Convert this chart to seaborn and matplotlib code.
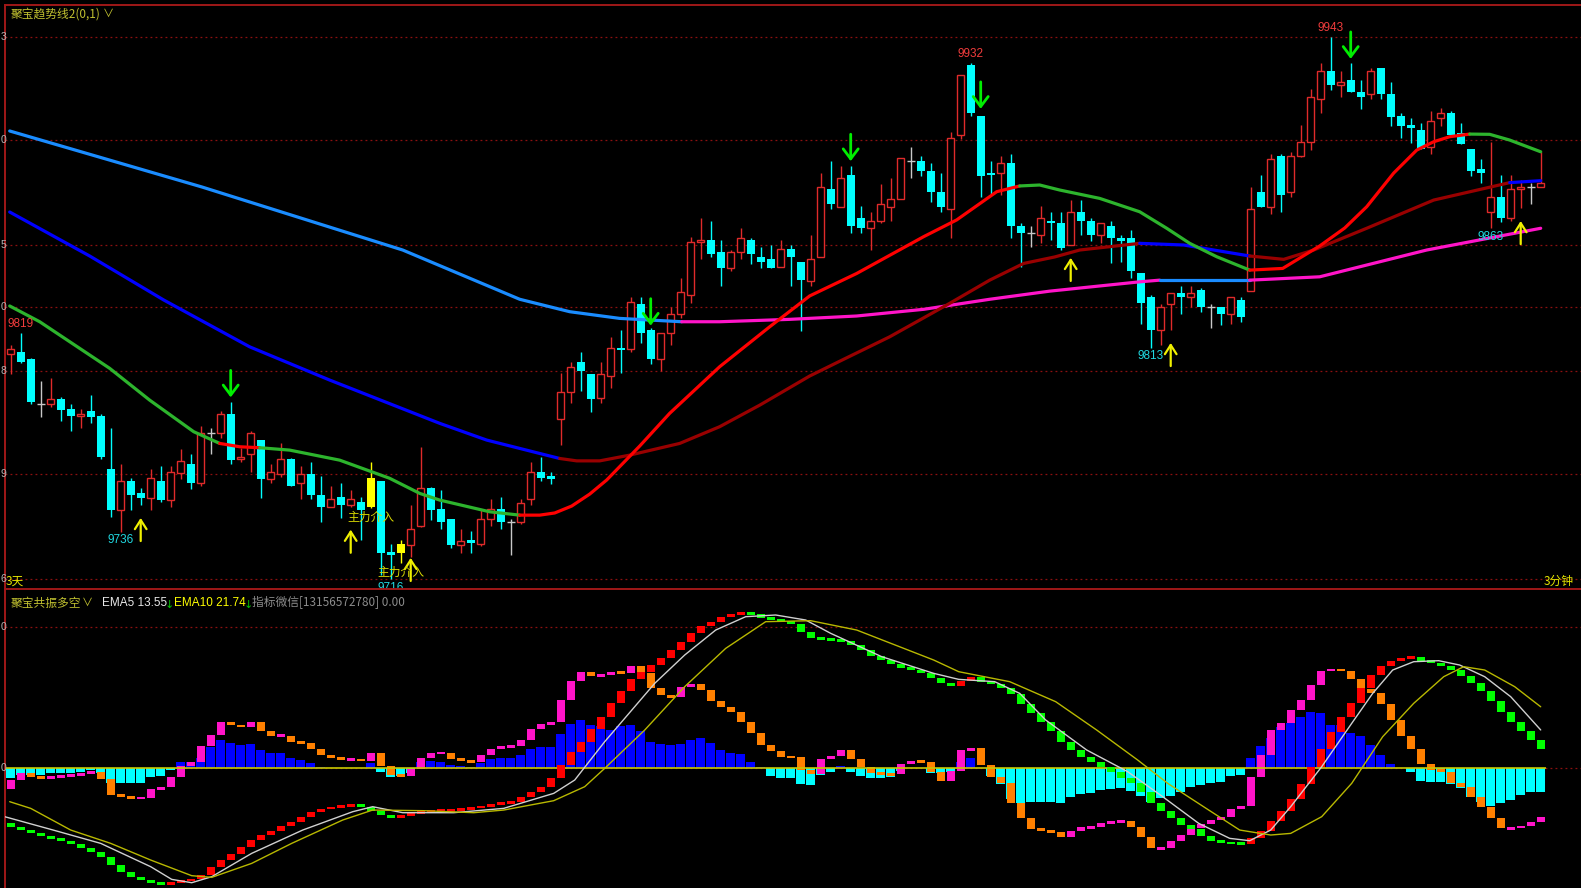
import numpy as np
import pandas as pd
import seaborn as sns
import matplotlib.pyplot as plt
from matplotlib import transforms

# ── 1. K线数据 (3分钟) ─────────────────────────────────────────────
opens = [9810.2, 9811.0, 9808.2, 9789.2, 9789.2, 9791.3, 9787.1, 9784.2, 9786.3, 9784.2,
         9762.2, 9745.0, 9757.2, 9752.3, 9750.0, 9757.2, 9749.2, 9760.4, 9764.3, 9756.2,
         9777.1, 9777.1, 9785.1, 9766.2, 9768.4, 9774.2, 9758.1, 9760.2, 9766.2, 9756.2,
         9760.2, 9751.3, 9746.1, 9750.3, 9747.0, 9748.3, 9758.3, 9757.3, 9727.4, 9727.1,
         9730.4, 9738.3, 9754.1, 9745.3, 9741.1, 9730.4, 9732.4, 9731.0, 9741.1, 9745.3,
         9740.1, 9740.1, 9749.5, 9761.1, 9759.2, 9783.0, 9794.3, 9807.1, 9802.1, 9792.0,
         9801.2, 9813.0, 9812.3, 9831.1, 9820.4, 9808.1, 9819.0, 9827.2, 9835.0, 9857.0,
         9857.9, 9853.1, 9846.2, 9853.1, 9857.9, 9850.9, 9850.1, 9846.9, 9854.1, 9848.9,
         9841.0, 9850.7, 9879.2, 9872.0, 9885.1, 9867.1, 9862.9, 9865.9, 9872.0, 9875.0,
         9891.1, 9891.1, 9887.0, 9878.0, 9871.0, 9901.9, 9931.0, 9909.9, 9886.2, 9886.2,
         9890.1, 9864.0, 9861.1, 9860.1, 9866.0, 9864.9, 9855.8, 9869.8, 9865.9, 9860.0,
         9863.9, 9858.9, 9858.9, 9844.0, 9834.2, 9820.3, 9831.1, 9835.9, 9834.2, 9837.0,
         9830.0, 9830.0, 9827.2, 9833.1, 9836.7, 9877.9, 9871.9, 9893.1, 9877.9, 9893.1,
         9898.8, 9916.8, 9928.8, 9922.8, 9924.9, 9919.8, 9918.9, 9929.8, 9918.9, 9909.9,
         9905.9, 9904.0, 9896.7, 9908.9, 9911.0, 9902.9, 9895.9, 9887.9, 9869.8, 9876.1,
         9867.0, 9879.2, 9880.0, 9880.0]
highs = [9814.1, 9819.0, 9808.5, 9799.0, 9800.1, 9792.2, 9789.2, 9787.1, 9793.1, 9785.1,
         9779.2, 9764.3, 9758.3, 9754.1, 9762.2, 9763.4, 9763.4, 9770.5, 9768.5, 9780.2,
         9779.5, 9786.5, 9790.1, 9770.8, 9778.2, 9774.2, 9764.3, 9773.2, 9767.0, 9763.4,
         9765.2, 9759.2, 9755.0, 9756.4, 9753.4, 9750.3, 9765.2, 9757.3, 9731.0, 9732.4,
         9747.1, 9771.2, 9754.8, 9753.4, 9741.1, 9737.3, 9736.4, 9745.3, 9749.5, 9750.3,
         9741.1, 9749.5, 9765.2, 9767.3, 9761.0, 9802.2, 9807.1, 9811.0, 9802.1, 9807.1,
         9817.3, 9820.4, 9834.3, 9834.3, 9821.1, 9819.2, 9830.1, 9842.0, 9859.4, 9867.1,
         9866.1, 9857.9, 9853.8, 9862.9, 9859.0, 9855.2, 9855.9, 9858.0, 9855.9, 9848.9,
         9860.1, 9886.2, 9891.1, 9889.0, 9889.0, 9872.2, 9869.9, 9881.3, 9884.1, 9892.2,
         9897.1, 9893.2, 9890.1, 9886.2, 9903.3, 9927.1, 9932.0, 9909.9, 9891.1, 9893.2,
         9894.0, 9865.0, 9864.0, 9872.2, 9869.9, 9869.8, 9874.9, 9874.9, 9867.0, 9864.9,
         9865.9, 9860.0, 9862.1, 9844.0, 9834.9, 9831.1, 9835.9, 9838.7, 9838.7, 9838.0,
         9831.1, 9830.0, 9834.2, 9834.2, 9880.0, 9885.1, 9893.9, 9893.9, 9894.9, 9906.0,
         9921.2, 9931.9, 9943.0, 9928.8, 9931.9, 9924.9, 9929.8, 9929.8, 9924.2, 9911.0,
         9908.9, 9907.1, 9911.9, 9913.1, 9911.9, 9906.8, 9895.9, 9891.7, 9899.1, 9885.2,
         9885.2, 9883.1, 9881.9, 9894.9]
lows = [9801.9, 9806.4, 9789.4, 9784.1, 9788.3, 9782.3, 9778.1, 9779.2, 9781.3, 9766.2,
        9742.2, 9736.0, 9745.0, 9747.1, 9745.0, 9748.2, 9746.1, 9758.0, 9753.9, 9755.2,
        9768.3, 9775.0, 9764.1, 9765.2, 9761.0, 9750.2, 9756.2, 9758.9, 9755.0, 9749.5,
        9749.5, 9740.1, 9746.1, 9741.5, 9746.1, 9732.4, 9745.7, 9717.8, 9716.0, 9722.7,
        9725.5, 9738.0, 9741.0, 9737.3, 9729.0, 9727.1, 9727.1, 9730.1, 9738.3, 9737.3,
        9726.2, 9739.1, 9747.1, 9757.0, 9756.0, 9772.2, 9789.9, 9795.0, 9786.2, 9790.0,
        9796.2, 9802.2, 9811.3, 9815.1, 9806.1, 9803.2, 9814.1, 9825.2, 9831.8, 9850.1,
        9851.0, 9838.9, 9845.0, 9850.1, 9848.1, 9846.2, 9846.2, 9846.9, 9838.9, 9820.1,
        9838.7, 9850.7, 9871.0, 9872.0, 9860.8, 9860.8, 9853.8, 9865.0, 9865.9, 9875.0,
        9883.8, 9884.8, 9874.0, 9869.9, 9859.0, 9900.1, 9909.9, 9875.9, 9876.8, 9876.8,
        9859.0, 9846.8, 9854.9, 9856.9, 9858.0, 9853.7, 9855.8, 9860.0, 9857.6, 9856.8,
        9848.2, 9848.8, 9841.9, 9823.0, 9813.0, 9814.0, 9820.3, 9827.2, 9830.0, 9827.9,
        9821.0, 9822.3, 9823.0, 9823.7, 9836.7, 9871.9, 9868.8, 9869.8, 9875.8, 9892.8,
        9895.8, 9911.0, 9920.7, 9917.7, 9919.8, 9912.6, 9916.8, 9916.8, 9905.7, 9900.8,
        9898.7, 9895.9, 9893.8, 9905.7, 9901.9, 9898.0, 9884.7, 9881.7, 9863.0, 9865.6,
        9866.1, 9871.2, 9873.0, 9880.0]
closes = [9812.3, 9807.1, 9790.1, 9789.2, 9791.3, 9786.9, 9784.2, 9785.1, 9784.1, 9767.2,
          9745.0, 9757.2, 9751.2, 9750.0, 9758.3, 9749.2, 9761.1, 9765.4, 9756.3, 9777.1,
          9777.1, 9785.1, 9766.1, 9767.3, 9777.4, 9758.1, 9761.0, 9766.2, 9755.0, 9760.2,
          9751.3, 9746.1, 9749.5, 9747.0, 9749.5, 9745.0, 9746.1, 9727.1, 9726.2, 9731.0,
          9737.3, 9754.1, 9745.0, 9740.1, 9730.4, 9732.2, 9731.3, 9741.1, 9745.3, 9740.1,
          9740.1, 9748.1, 9761.0, 9758.3, 9758.0, 9794.3, 9805.0, 9803.2, 9791.3, 9802.1,
          9813.0, 9812.1, 9831.9, 9819.0, 9808.2, 9819.2, 9827.2, 9836.1, 9857.0, 9857.9,
          9852.0, 9846.2, 9853.1, 9859.0, 9852.0, 9849.0, 9846.2, 9854.1, 9850.9, 9841.1,
          9850.1, 9880.2, 9872.9, 9883.9, 9864.0, 9862.9, 9865.9, 9872.9, 9875.0, 9892.2,
          9891.1, 9886.9, 9878.0, 9872.0, 9900.8, 9927.1, 9911.0, 9884.9, 9885.1, 9890.1,
          9864.0, 9860.8, 9861.1, 9867.1, 9865.0, 9854.8, 9869.8, 9865.9, 9860.0, 9864.9,
          9858.9, 9857.6, 9845.1, 9831.7, 9820.3, 9830.0, 9835.9, 9834.2, 9835.9, 9830.0,
          9830.0, 9827.2, 9834.2, 9825.8, 9870.9, 9871.9, 9891.8, 9876.7, 9893.1, 9898.8,
          9917.9, 9928.8, 9922.8, 9924.2, 9919.8, 9917.9, 9928.8, 9918.9, 9909.6, 9905.7,
          9904.8, 9895.9, 9907.9, 9911.0, 9901.9, 9898.0, 9886.8, 9885.9, 9875.8, 9867.0,
          9879.2, 9880.0, 9880.0, 9882.0]
yellow_idx = [36, 39]          # 主力介入 K线

# 高低点标注
peak_idx = [1, 96, 132]
trough_idx = [11, 38, 114, 148]

# 信号箭头 (箭头尖端价格)
sell_idx = [22, 64, 84, 97, 134]
sell_tip = [9791.0, 9821.0, 9889.8, 9911.7, 9932.6]
buy_idx = [13, 34, 40, 106, 116, 151]
buy_tip = [9742.9, 9738.0, 9726.2, 9851.7, 9816.1, 9867.1]

# ── 2. 趋势线 (读图取点) ─────────────────────────────────────────
trend_x = [-0.1, 2.9, 9.9, 13.9, 18.3, 20.9, 22.9, 24.9, 27.9, 32.9, 37.9, 40.9, 42.9, 47.9,
           50.9, 52.9, 54.4, 56.1, 57.9, 59.6, 62.9, 65.9, 70.9, 75.9, 79.9, 84.6, 91.3, 94.6,
           98.6, 100.9, 102.9, 104.9, 108.9, 112.9, 115.6, 117.9, 120.6, 123.9, 127.2, 130.9,
           133.4, 135.6, 138.3, 140.6, 142.3, 143.9, 145.9, 147.9, 149.9, 153.0]
trend_y = [9830.4, 9823.8, 9804.3, 9791.0, 9777.8, 9772.9, 9771.5, 9771.1, 9770.1, 9765.9,
           9758.3, 9752.0, 9749.2, 9744.3, 9742.9, 9742.9, 9743.8, 9746.7, 9751.7, 9757.6,
           9771.8, 9785.5, 9805.0, 9821.7, 9834.6, 9844.0, 9859.4, 9866.4, 9878.2, 9880.6,
           9881.0, 9878.9, 9875.4, 9869.8, 9862.9, 9856.6, 9851.0, 9845.4, 9846.1, 9855.5,
           9863.0, 9871.9, 9886.0, 9895.6, 9899.1, 9901.2, 9902.3, 9902.2, 9899.8, 9894.9]
trend_breaks = [0, 5, 7, 14, 29, 37, 46, 49]
trend_colors = ["#2db42d", "#ff0000", "#2db42d", "#ff0000", "#2db42d", "#ff0000", "#2db42d"]

slow_x = [-0.1, 7.9, 15.3, 23.9, 31.9, 42.9, 47.6, 52.9, 54.9, 56.6, 58.9, 61.9, 66.9, 70.9,
          74.9, 79.9, 83.3, 87.9, 93.9, 97.9, 101.3, 104.4, 106.9, 112.9, 117.3, 123.9,
          127.3, 130.3, 135.6, 142.3, 149.9, 153.0]
slow_y = [9869.7, 9851.3, 9832.9, 9813.3, 9799.4, 9781.3, 9774.3, 9768.7, 9766.6, 9765.6,
          9765.6, 9768.0, 9772.9, 9779.9, 9788.9, 9801.1, 9808.1, 9817.5, 9831.5, 9841.2,
          9848.2, 9850.9, 9853.8, 9856.6, 9855.9, 9851.3, 9849.9, 9853.8, 9862.9, 9874.7,
          9882.0, 9882.8]
slow_breaks = [0, 8, 23, 25, 30, 31]
slow_colors = ["#0000ff", "#990000", "#0000ff", "#990000", "#0000ff"]

long_x = [-0.1, 19.1, 39.2, 50.9, 55.9, 60.9, 67.1, 70.9, 77.9, 84.6, 91.3, 97.9, 103.9,
          112.9, 114.9, 123.9, 130.9, 141.6, 153.0]
long_y = [9903.6, 9880.2, 9853.8, 9833.2, 9828.0, 9825.2, 9823.8, 9823.8, 9824.8, 9826.2,
          9829.0, 9833.2, 9836.6, 9840.5, 9841.2, 9841.2, 9842.6, 9853.8, 9862.9]
long_breaks = [0, 6, 14, 15, 18]
long_colors = ["#1a8cff", "#ff14c8", "#1a8cff", "#ff14c8"]

grid_levels = [9943, 9900, 9856, 9830, 9803, 9760, 9716]
grid_tail = ["3", "0", "5", "0", "8", "9", "6"]     # 左侧被截断的刻度末位

# ── 3. 副图: 聚宝共振多空 ─────────────────────────────────────────
hist = [-3.56, -2.38, -2.38, -2.38, -1.79, -1.79, -1.55, -1.20, -0.61, -1.79,
        -5.32, -5.32, -5.32, -5.09, -3.20, -2.73, -0.61, 2.10, 2.33, 3.51,
        7.63, 9.99, 8.81, 8.22, 8.58, 6.46, 5.28, 5.28, 3.51, 2.92,
        1.74, 0.33, 0.0, 0.0, 0.0, 0.0, 1.74, -1.20, -2.97, -2.73,
        -1.79, 2.33, 2.57, 2.33, 1.16, 0.80, 0.57, 1.98, 3.16, 3.51,
        3.51, 4.69, 6.69, 7.63, 7.63, 12.11, 15.64, 17.06, 15.29, 14.94,
        13.52, 14.94, 15.29, 13.29, 9.40, 8.58, 8.22, 8.58, 9.99, 10.58,
        8.81, 6.46, 5.28, 5.04, 2.33, 0.33, -2.73, -3.56, -3.56, -5.56,
        -5.91, -2.38, -1.20, 0.92, -1.20, -2.73, -3.56, -3.32, -2.97, -0.85,
        0.0, 0.0, -1.79, -1.55, -1.20, 2.33, 3.51, 0.0, -2.73, -5.56,
        -10.86, -12.16, -12.04, -12.04, -11.80, -12.39, -10.27, -9.09, -8.86, -7.68,
        -7.44, -6.86, -8.03, -9.80, -11.80, -10.63, -9.80, -8.27, -6.50, -5.91,
        -5.09, -4.74, -2.73, -2.38, 3.75, 7.87, 10.58, 14.70, 16.12, 18.00,
        20.00, 19.41, 15.29, 15.29, 12.58, 11.40, 8.22, 4.69, 1.51, 0.0,
        -1.20, -4.50, -4.74, -4.74, -5.56, -7.09, -10.04, -12.04, -13.22, -12.16,
        -11.21, -9.45, -8.27, -8.27]
fast_start = -7.33
fast = [-4.15, -1.55, -3.20, -3.32, -2.97, -2.73, -2.50, -1.79, -1.20, -3.79,
        -9.33, -9.80, -10.63, -10.39, -7.44, -6.74, -2.97, 0.92, 2.33, 7.87,
        11.76, 16.23, 15.17, 14.70, 16.23, 13.05, 11.52, 11.52, 9.28, 9.05,
        6.93, 4.57, 3.75, 3.16, 3.16, 2.69, 5.51, 0.92, -2.38, -2.61,
        -0.38, 3.51, 5.28, 5.51, 3.27, 2.69, 2.10, 4.69, 6.81, 7.63,
        7.99, 9.99, 13.76, 15.53, 16.35, 24.13, 30.84, 33.90, 32.61, 32.84,
        34.14, 33.55, 36.02, 33.55, 28.25, 25.89, 25.07, 28.84, 29.78, 27.66,
        23.77, 21.77, 20.00, 16.47, 12.35, 8.22, 6.22, 4.10, 3.86, -0.61,
        -2.03, 3.16, 4.34, 6.46, 3.16, 0.33, -1.79, -2.03, -2.14, 1.39,
        2.57, 2.10, -1.20, -4.38, -0.97, 6.46, 7.05, 1.16, -2.97, -5.32,
        -12.39, -17.69, -21.46, -22.05, -22.64, -24.41, -22.05, -20.87, -20.87, -19.46,
        -19.11, -18.52, -20.87, -24.41, -28.30, -28.30, -25.70, -23.58, -21.23, -19.70,
        -18.28, -17.10, -14.39, -13.33, -2.97, 4.69, 13.52, 15.88, 20.59, 24.13,
        29.43, 34.37, 35.08, 34.37, 31.55, 28.01, 26.72, 22.59, 17.06, 11.40,
        6.69, 1.39, -0.61, -1.20, -5.09, -6.74, -10.04, -13.57, -17.46, -21.23,
        -21.23, -20.29, -18.87, -17.34]
trendv_start = -19.46
trendv = [-20.87, -21.82, -22.88, -23.94, -24.88, -25.59, -26.76, -28.30, -29.47, -31.24,
          -34.19, -36.54, -38.31, -39.49, -40.31, -41.25, -40.43, -39.72, -39.25, -37.72,
          -35.01, -32.42, -30.30, -27.94, -25.35, -23.58, -22.17, -20.28, -18.87, -17.10,
          -15.34, -14.51, -13.57, -13.22, -12.98, -13.50, -14.98, -16.52, -17.34, -16.99,
          -15.93, -15.34, -15.10, -14.98, -14.75, -14.51, -14.04, -13.33, -12.75, -12.39,
          -11.80, -10.04, -8.50, -6.74, -3.56, 1.16, 5.63, 9.40, 13.76, 18.24,
          22.95, 27.42, 31.43, 34.14, 36.49, 39.09, 41.80, 44.74, 47.92, 50.28,
          51.81, 53.34, 54.40, 54.75, 54.40, 52.99, 52.63, 51.81, 50.98, 48.28,
          46.15, 45.80, 45.33, 45.09, 43.56, 41.80, 39.68, 38.26, 36.85, 35.55,
          34.73, 33.55, 32.02, 30.02, 29.19, 30.96, 32.14, 30.61, 29.66, 28.49,
          26.13, 22.71, 19.65, 16.47, 13.17, 9.40, 6.46, 4.10, 2.10, 0.57,
          -1.20, -3.32, -5.32, -8.27, -12.16, -15.10, -17.69, -20.05, -21.58, -23.94,
          -25.59, -26.29, -26.53, -26.76, -24.76, -22.05, -18.52, -15.10, -10.86, -5.68,
          0.33, 6.93, 12.70, 18.00, 22.95, 28.25, 32.96, 36.14, 38.03, 39.09,
          39.44, 37.91, 37.32, 36.14, 34.73, 32.61, 30.02, 27.42, 23.89, 20.00,
          16.47, 13.29, 10.01, 6.81]
ema5_x = [-0.6, 4.0, 9.0, 14.0, 16.1, 18.1, 20.1, 24.1, 29.2, 34.2, 36.2, 39.2, 44.3, 49.3,
          54.3, 56.4, 59.4, 62.4, 64.4, 67.4, 70.5, 73.5, 76.5, 79.5, 82.0, 87.1, 92.3, 94.8,
          98.4, 100.9, 103.5, 107.6, 111.7, 115.2, 118.8, 121.9, 123.9, 126.0, 128.0, 131.1,
          134.1, 136.2, 138.2, 140.3, 142.8, 144.9, 147.4, 150.0, 153.0]
ema5_y = [-17.10, -21.58, -26.53, -34.77, -39.25, -40.43, -38.31, -30.06, -21.82, -15.34,
          -13.57, -15.69, -15.69, -14.16, -8.86, -4.15, 9.40, 21.77, 30.02, 40.03, 48.86,
          53.58, 54.17, 52.40, 47.69, 39.44, 33.55, 31.43, 30.61, 26.48, 17.06, 6.46, -1.20,
          -10.04, -19.46, -24.76, -25.59, -21.82, -13.57, 0.57, 15.88, 26.48, 34.73, 37.67,
          38.03, 36.49, 32.37, 25.30, 13.55]
ema10_x = [-0.1, 2.0, 6.0, 10.0, 14.0, 18.1, 20.1, 24.1, 28.1, 33.2, 36.2, 41.3, 46.3, 49.3,
           54.3, 57.4, 59.4, 63.4, 67.4, 71.5, 75.5, 80.0, 84.6, 92.3, 94.8, 99.9, 104.5,
           108.6, 112.7, 115.7, 119.8, 122.9, 126.0, 128.0, 131.1, 134.1, 137.2, 140.3,
           143.3, 145.3, 147.4, 150.4, 153.0]
ema10_y = [-11.80, -14.16, -21.82, -26.53, -32.42, -37.95, -38.54, -33.60, -26.53, -18.28,
           -14.75, -14.98, -15.69, -14.75, -11.45, -6.50, -0.02, 13.52, 28.84, 42.38, 51.81,
           52.16, 48.86, 38.26, 34.14, 30.61, 23.54, 13.52, 2.92, -5.32, -14.75, -21.82,
           -23.58, -23.00, -17.10, -5.32, 11.17, 22.95, 32.37, 35.91, 34.73, 28.84, 21.74]
sub_grid = [50, 0]

# ── 4. 画布 ───────────────────────────────────────────────────────
sns.set_style("dark", {"axes.facecolor": "black", "figure.facecolor": "black"})
plt.rcParams["font.family"] = ["Noto Sans CJK SC", "DejaVu Sans"]

W, H = 1581, 888
fig = plt.figure(figsize=(W / 100, H / 100), dpi=100, facecolor="black")
ax1 = fig.add_axes([5 / W, (H - 589) / H, (W - 5) / W, 584 / H])
ax2 = fig.add_axes([5 / W, 0, (W - 5) / W, 299 / H])
BORDER = "#a01818"
GRID = "#8c1010"
for ax in (ax1, ax2):
    ax.set_facecolor("black")
    for s in ("right", "bottom"):
        ax.spines[s].set_visible(False)
    for s in ("top", "left"):
        ax.spines[s].set_visible(True)
        ax.spines[s].set_color(BORDER)
        ax.spines[s].set_linewidth(1.4)
    ax.grid(False)

n = len(opens)
idx = np.arange(n)
o, h, l, c = map(np.array, (opens, highs, lows, closes))
yel = np.isin(idx, yellow_idx)
up = (c > o) & ~yel
dn = (c < o) & ~yel
dj = (c == o) & ~yel
UP, DN, DJ, YL = "#e02a2a", "#00ffff", "#c8c8c8", "#ffff00"

# 主图网格
for p in grid_levels:
    ax1.axhline(p, color=GRID, lw=0.9, ls=(0, (1.5, 2.5)), zorder=0)

# K线
wick_col = np.where(up, UP, np.where(dn, DN, np.where(yel, YL, DJ)))
ax1.vlines(idx, l, h, colors=list(wick_col), lw=1, zorder=2)
lo_b = np.minimum(o, c)
hb = np.maximum(np.abs(c - o), 0.4)
ax1.bar(idx[dn], hb[dn], bottom=lo_b[dn], width=0.8, color=DN, lw=0, zorder=3)
ax1.bar(idx[yel], hb[yel], bottom=lo_b[yel], width=0.8, color=YL, lw=0, zorder=3)
ax1.bar(idx[up], hb[up], bottom=lo_b[up], width=0.72, facecolor="black",
        edgecolor=UP, lw=1, zorder=3)
ax1.hlines(o[dj], idx[dj] - 0.4, idx[dj] + 0.4, colors=DJ, lw=1, zorder=3)


def seg_lines(ax, xs, ys, breaks, colors, lw):
    for k, col in enumerate(colors):
        a, b = breaks[k], breaks[k + 1]
        sns.lineplot(x=xs[a:b + 1], y=ys[a:b + 1], color=col, lw=lw, ax=ax,
                     sort=False, zorder=5, solid_capstyle="round", solid_joinstyle="round")


seg_lines(ax1, long_x, long_y, long_breaks, long_colors, 2.3)
seg_lines(ax1, slow_x, slow_y, slow_breaks, slow_colors, 2.3)
seg_lines(ax1, trend_x, trend_y, trend_breaks, trend_colors, 2.3)

# 高低点数字
for i in peak_idx:
    ax1.annotate(f"{highs[i]:.0f}", (i, highs[i]), xytext=(0, 2), textcoords="offset points",
                 ha="center", va="bottom", color="#f03c3c", fontsize=8.5,
                 family="Liberation Sans", zorder=6)
for i in trough_idx:
    ax1.annotate(f"{lows[i]:.0f}", (i, lows[i]), xytext=(0, -2), textcoords="offset points",
                 ha="center", va="top", color="#20d8e0", fontsize=8.5,
                 family="Liberation Sans", zorder=6)

# 箭头
for i, t in zip(sell_idx, sell_tip):
    ax1.annotate("", xy=(i, t), xytext=(i, t + 13.6),
                 arrowprops=dict(arrowstyle="->,head_length=0.6,head_width=0.45",
                                 color="#00ee00", lw=2.0, mutation_scale=12), zorder=7)
for i, t in zip(buy_idx, buy_tip):
    ax1.annotate("", xy=(i, t), xytext=(i, t - 12.0),
                 arrowprops=dict(arrowstyle="->,head_length=0.55,head_width=0.35",
                                 color="#f0f000", lw=1.6, mutation_scale=12), zorder=7)
for i in yellow_idx:
    ax1.annotate("主力介入", (i, lows[i]), xytext=(0, -2), textcoords="offset points",
                 ha="center", va="top", color="#d8d800", fontsize=8.5, zorder=7)

ax1.set_xlim(-0.57, 157.03)
ax1.set_ylim(9712.0, 9956.3)
ax1.set_xticks([])
ax1.set_yticks([])
ax1.set_xlabel("")
ax1.set_ylabel("")

# ── 副图 ─────────────────────────────────────────────────────────
for g in sub_grid:
    ax2.axhline(g, color=GRID, lw=0.9, ls=(0, (1.5, 2.5)), zorder=0)

hdf = pd.DataFrame({"i": idx, "v": hist,
                    "side": np.where(np.array(hist) >= 0, "pos", "neg")})
sns.barplot(data=hdf, x="i", y="v", hue="side", palette={"pos": "#0000ff", "neg": "#00ffff"},
            native_scale=True, dodge=False, width=0.85, saturation=1, errorbar=None,
            legend=False, ax=ax2, zorder=2, lw=0)


def stick_bars(ax, start, vals, c_up, c_dn, zorder):
    a = np.r_[start, vals]
    lo_v = np.minimum(a[:-1], a[1:])
    hi_v = np.maximum(a[:-1], a[1:])
    hh = np.maximum(hi_v - lo_v, 1.0)
    mid = (lo_v + hi_v) / 2
    cols = np.where(a[1:] >= a[:-1], c_up, c_dn)
    ax.bar(idx, hh, bottom=mid - hh / 2, width=0.8, color=list(cols), lw=0, zorder=zorder)


stick_bars(ax2, fast_start, fast, "#ff14c8", "#ff8000", 3)
stick_bars(ax2, trendv_start, trendv, "#ff0000", "#00ff00", 4)
ax2.hlines(0, -0.5, n - 0.5, colors="#c8c800", lw=1.2, zorder=3)
sns.lineplot(x=ema5_x, y=ema5_y, color="#d0d0d0", lw=1.0, ax=ax2, sort=False, zorder=6)
sns.lineplot(x=ema10_x, y=ema10_y, color="#b8b800", lw=1.0, ax=ax2, sort=False, zorder=6)

ax2.set_xlim(-0.57, 157.03)
ax2.set_ylim(-42.3, 63.36)
ax2.set_xticks([])
ax2.set_yticks([])
ax2.set_xlabel("")
ax2.set_ylabel("")

# ── 文字 ─────────────────────────────────────────────────────────
def ftxt(x, y, s, **kw):
    fig.text(x / W, 1 - y / H, s, va="center", ha="left", **kw)


OLIVE = "#c0c030"
ftxt(11, 14, "聚宝趋势线2(0,1)", color=OLIVE, fontsize=8.5)
ftxt(103, 14, "∨", color=OLIVE, fontsize=8)
ftxt(6, 581, "3天", color="#e6e600", fontsize=8.5)
ftxt(1544, 581, "3分钟", color="#e6e600", fontsize=8.5)
ftxt(11, 603, "聚宝共振多空", color=OLIVE, fontsize=8.5)
ftxt(82, 603, "∨", color=OLIVE, fontsize=8)
ftxt(102, 603, f"EMA5 {ema5_y[-1]:.2f}", color="#e8e8e8", fontsize=8.5, family="Liberation Sans")
ftxt(165, 605, "↓", color="#00c000", fontsize=8, family="DejaVu Sans")
ftxt(174, 603, f"EMA10 {ema10_y[-1]:.2f}", color="#ffff00", fontsize=8.5, family="Liberation Sans")
ftxt(244, 605, "↓", color="#00c000", fontsize=8, family="DejaVu Sans")
ftxt(252, 603, "指标微信[13156572780] 0.00", color="#8c8c8c", fontsize=8.5)

tr1 = transforms.blended_transform_factory(fig.transFigure, ax1.transData)
for p, t in zip(grid_levels, grid_tail):
    ax1.text(0.5 / W, p, t, transform=tr1, ha="left", va="center",
             color="#b4b4b4", fontsize=7.5, family="Liberation Sans")
tr2 = transforms.blended_transform_factory(fig.transFigure, ax2.transData)
for g in sub_grid:
    ax2.text(0.5 / W, g, "0", transform=tr2, ha="left", va="center",
             color="#b4b4b4", fontsize=7.5, family="Liberation Sans")

fig.savefig("out.png", dpi=100, facecolor="black")
